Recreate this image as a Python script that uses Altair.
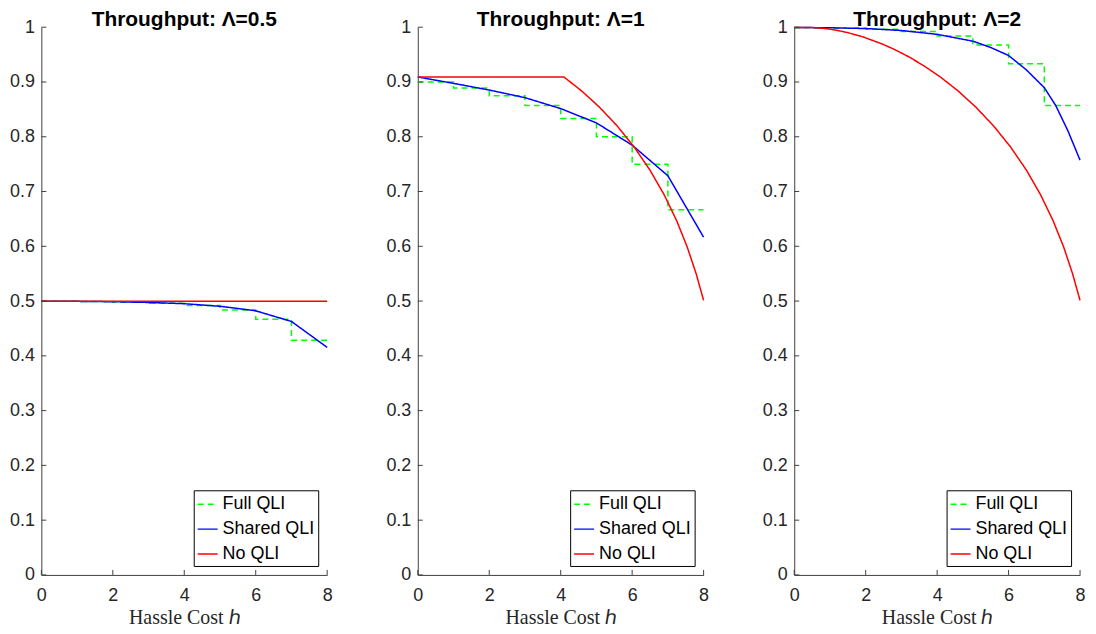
import altair as alt
import pandas as pd

SERIES = ["Full QLI", "Shared QLI", "No QLI"]
COLORS = ["#00ff00", "#0000ff", "#ff0000"]
DASHES = [[6, 4], [1, 0], [1, 0]]
PANEL_TITLES = ["Throughput: Λ=0.5", "Throughput: Λ=1", "Throughput: Λ=2"]

Y_TICKS = [0, 0.1, 0.2, 0.3, 0.4, 0.5, 0.6, 0.7, 0.8, 0.9, 1]
X_TICKS = [0, 2, 4, 6, 8]

# Full QLI (stairs, drops at integer hassle costs)
full_h = [0, 1, 2, 3, 4, 5, 6, 7, 8]
full_l05 = [0.49951, 0.49902, 0.49804, 0.49606, 0.49206, 0.48387, 0.46667, 0.42857, 0.42857]
full_l1 = [0.9, 0.88889, 0.875, 0.85714, 0.83333, 0.8, 0.75, 0.66667, 0.66667]
full_l2 = [0.99902, 0.99804, 0.99608, 0.99213, 0.98413, 0.96774, 0.93333, 0.85714, 0.85714]

# Shared QLI
shared_h05 = [0, 1, 2, 3, 4, 5, 6, 7, 8]
shared_l05 = [0.49976, 0.4995, 0.4988, 0.4975, 0.4952, 0.4905, 0.4822, 0.4628, 0.4155]
shared_h1 = [0, 1, 2, 3, 4, 5, 6, 7, 8]
shared_l1 = [0.90909, 0.8975, 0.8853, 0.8714, 0.8514, 0.8253, 0.7847, 0.7288, 0.6166]
shared_h2 = [0, 1, 2, 3, 4, 5, 5.5, 6, 6.5, 7, 7.32, 7.66, 8]
shared_l2 = [0.99951, 0.999, 0.9976, 0.994, 0.987, 0.9745, 0.963, 0.9484, 0.922, 0.8896, 0.857, 0.811, 0.7574]

# No QLI
noqli_h05 = [0, 8]
noqli_l05 = [0.49976, 0.49976]
noqli_h1 = [0, 4.091, 4.580, 5.081, 5.580, 6.057, 6.500, 6.897, 7.245, 7.543, 7.794, 8.0]
noqli_l1 = [0.90909, 0.90909, 0.88404, 0.85427, 0.81985, 0.78121, 0.73898, 0.69395, 0.64691, 0.59854, 0.54937, 0.5012]
noqli_h2 = [0, 0.495, 0.624, 0.809, 0.981, 1.209, 1.514, 1.928, 2.482, 2.821, 3.204, 3.629, 4.091,
            4.580, 5.081, 5.580, 6.057, 6.500, 6.897, 7.245, 7.543, 7.794, 8.0]
noqli_l2 = [0.99951, 0.99951, 0.99902, 0.99795, 0.99658, 0.99415, 0.98987, 0.98227, 0.96890, 0.95893, 0.94604, 0.92961, 0.90909,
            0.88404, 0.85427, 0.81985, 0.78121, 0.73898, 0.69395, 0.64691, 0.59854, 0.54937, 0.5012]

PANELS = [
    (full_l05, shared_h05, shared_l05, noqli_h05, noqli_l05),
    (full_l1, shared_h1, shared_l1, noqli_h1, noqli_l1),
    (full_l2, shared_h2, shared_l2, noqli_h2, noqli_l2),
]

W, H = 287, 550
AX = "#404040"

axis_common = dict(
    domainColor=AX, domainWidth=1, ticks=False, tickSize=0, grid=False,
    labelFont="Liberation Sans", labelFontSize=18, labelColor="#262626",
    labelFlush=False, labelOverlap=False,
)
xaxis = alt.Axis(values=X_TICKS, title="Hassle Cost ℎ", titleFont="Liberation Serif",
                 titleFontSize=20, titleFontWeight="normal", titleColor="#262626",
                 labelPadding=12, titlePadding=3, **axis_common)
yaxis = alt.Axis(values=Y_TICKS, title=None, format=".1~f", labelPadding=7, **axis_common)

xscale = alt.Scale(domain=[0, 8], nice=False, zero=False)
yscale = alt.Scale(domain=[0, 1], nice=False, zero=False)


def panel(i):
    full_v, sh_h, sh_v, no_h, no_v = PANELS[i]
    df_full = pd.DataFrame({"h": full_h, "value": full_v, "series": SERIES[0]})
    df_sh = pd.DataFrame({"h": sh_h, "value": sh_v, "series": SERIES[1]})
    df_no = pd.DataFrame({"h": no_h, "value": no_v, "series": SERIES[2]})
    leg = dict(title=None, orient="bottom-right", offset=9)
    color = alt.Color("series:N", scale=alt.Scale(domain=SERIES, range=COLORS), legend=alt.Legend(**leg))
    dash = alt.StrokeDash("series:N", scale=alt.Scale(domain=SERIES, range=DASHES), legend=alt.Legend(**leg))
    x = alt.X("h:Q", scale=xscale, axis=xaxis)
    y = alt.Y("value:Q", scale=yscale, axis=yaxis)
    full = alt.Chart(df_full).mark_line(interpolate="step-after", strokeWidth=1.5).encode(
        x=x, y=y, color=color, strokeDash=dash)
    sh = alt.Chart(df_sh).mark_line(strokeWidth=1.5).encode(
        x=x, y=y, color=color, strokeDash=dash, order="h:Q")
    no = alt.Chart(df_no).mark_line(strokeWidth=1.5).encode(
        x=x, y=y, color=color, strokeDash=dash, order="h:Q")
    yt = alt.Chart(pd.DataFrame({"value": Y_TICKS})).mark_rule(color=AX, strokeWidth=1).encode(
        y=y, x=alt.value(0), x2=alt.value(5))
    xt = alt.Chart(pd.DataFrame({"h": X_TICKS})).mark_rule(color=AX, strokeWidth=1).encode(
        x=x, y=alt.value(H), y2=alt.value(H - 5))
    return alt.layer(full, sh, no, yt, xt).properties(
        width=W, height=H,
        title=alt.TitleParams(PANEL_TITLES[i], font="Liberation Sans", fontSize=21,
                              fontWeight="bold", color="black", offset=-12, anchor="middle"),
    )


chart = alt.hconcat(panel(0), panel(1), panel(2), spacing=91, bounds="flush").resolve_scale(
    color="independent", strokeDash="independent"
).resolve_legend(
    color="independent", strokeDash="independent"
).configure(
    padding={"left": 0.5, "top": 0, "right": 2, "bottom": 0}
).configure_view(stroke=None).configure_legend(
    labelFont="Liberation Sans", labelFontSize=18, labelColor="black",
    symbolType="stroke", symbolSize=400, symbolStrokeWidth=1.5,
    strokeColor="black", fillColor="white", padding=3, rowPadding=5, labelOffset=4,
    cornerRadius=0,
)

chart.save("out.html", embed_options={"renderer": "svg", "actions": False})
